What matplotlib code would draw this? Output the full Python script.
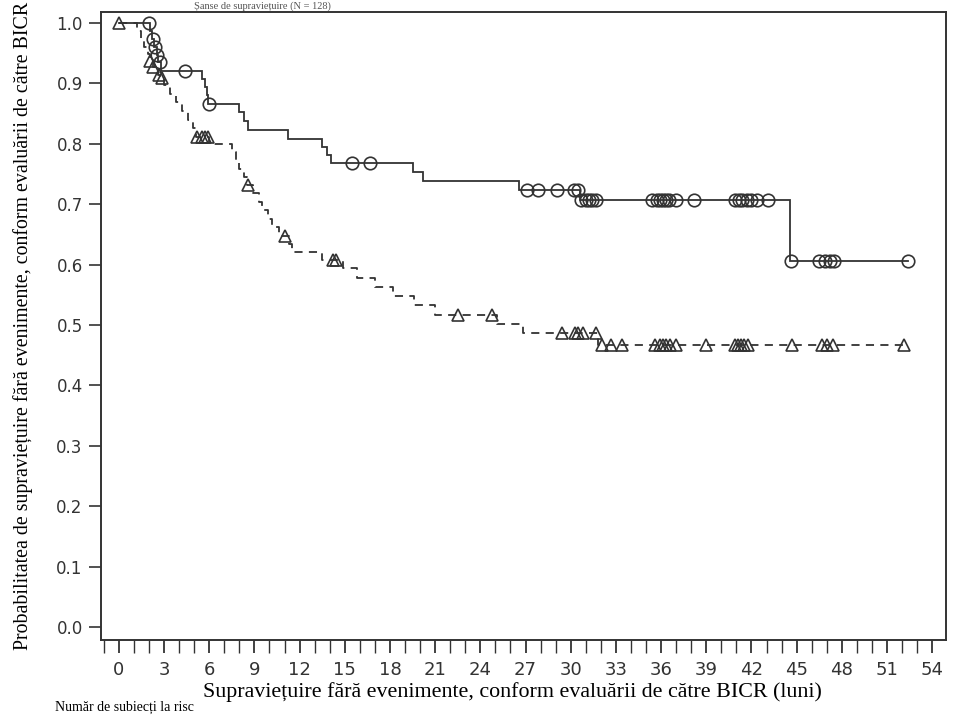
import numpy as np
import matplotlib
matplotlib.use("Agg")
import matplotlib.pyplot as plt
from matplotlib.ticker import MultipleLocator

# ---- Data ----
# Arm A (solid line, circles)
a_event_t = [0.0, 2.1, 2.2, 2.35, 2.5, 2.6, 2.8, 5.5, 5.7, 5.85, 5.95, 8.0, 8.3, 8.6,
             11.2, 13.5, 13.8, 14.1, 19.5, 20.2, 26.6, 30.6, 44.55]
a_event_s = [1.0, 0.986, 0.973, 0.960, 0.947, 0.935, 0.921, 0.907, 0.894, 0.880, 0.866,
             0.852, 0.838, 0.823, 0.808, 0.795, 0.782, 0.768, 0.753, 0.738, 0.723, 0.707, 0.606]
a_end = 52.4
a_cens = [2.0, 2.25, 2.4, 2.55, 2.7, 4.4, 6.0, 15.5, 16.7, 27.1, 27.8, 29.1, 30.2, 30.5,
          30.7, 31.0, 31.2, 31.4, 31.7, 35.4, 35.7, 35.9, 36.1, 36.3, 36.5, 37.0, 38.2,
          40.9, 41.2, 41.4, 41.7, 42.0, 42.4, 43.1, 44.6, 46.5, 46.9, 47.2, 47.5, 52.4]

# Arm B (dashed line, triangles)
b_event_t = [0.0, 1.2, 1.5, 1.7, 1.95, 2.05, 2.25, 2.6, 2.75, 3.0, 3.4, 3.8, 4.2, 4.6, 4.9, 5.1,
             6.0, 7.5, 7.8, 8.0, 8.3, 8.5, 8.9, 9.3, 9.5, 9.9, 10.2, 10.6, 11.3, 11.5,
             13.5, 14.9, 15.8, 17.0, 18.2, 19.6, 21.0, 25.1, 26.8, 31.8]
b_event_s = [1.0, 0.987, 0.974, 0.961, 0.948, 0.937, 0.927, 0.914, 0.909, 0.897, 0.883, 0.869,
             0.855, 0.840, 0.826, 0.812, 0.800, 0.786, 0.772, 0.759, 0.745, 0.732, 0.718,
             0.704, 0.690, 0.676, 0.662, 0.648, 0.634, 0.621, 0.608, 0.594, 0.578, 0.563,
             0.548, 0.533, 0.517, 0.502, 0.487, 0.467]
b_end = 52.1
b_cens = [0.0, 2.1, 2.3, 2.65, 2.85, 5.2, 5.5, 5.7, 5.9, 8.6, 11.0, 14.2, 14.4, 22.5, 24.8,
          29.4, 30.3, 30.5, 30.8, 31.7, 32.1, 32.7, 33.4, 35.6, 35.9, 36.1, 36.3, 36.6, 37.0,
          39.0, 40.9, 41.1, 41.3, 41.5, 41.8, 44.7, 46.7, 47.0, 47.4, 52.1]

x_ticks = list(range(0, 55, 3))
y_ticks = [0.0, 0.1, 0.2, 0.3, 0.4, 0.5, 0.6, 0.7, 0.8, 0.9, 1.0]

xlabel = "Supraviețuire fără evenimente, conform evaluării de către BICR (luni)"
ylabel = "Probabilitatea de supraviețuire fără evenimente, conform evaluării de către BICR"
top_text = "Șanse de supraviețuire (N = 128)"
bottom_text = "Număr de subiecți la risc"

# ---- Plot ----
fig = plt.figure(figsize=(9.69, 7.15), dpi=100)
ax = fig.add_axes([0.104, 0.105, 0.872, 0.878])

col = "#333333"

def surv_at(times, surv, t):
    idx = np.searchsorted(np.asarray(times), t, side="right") - 1
    return np.asarray(surv)[idx]

# Arm A
ax.step(list(a_event_t) + [a_end], list(a_event_s) + [a_event_s[-1]], where="post",
        color=col, lw=1.3, solid_joinstyle="miter")
ax.plot(a_cens, surv_at(a_event_t, a_event_s, np.array(a_cens)), ls="none", marker="o",
        ms=9, mfc="none", mec=col, mew=1.2)

# Arm B
ax.step(list(b_event_t) + [b_end], list(b_event_s) + [b_event_s[-1]], where="post",
        color=col, lw=1.3, ls=(0, (4.5, 3.5)))
ax.plot(b_cens, surv_at(b_event_t, b_event_s, np.array(b_cens)), ls="none", marker="^",
        ms=9, mfc="none", mec=col, mew=1.2)

ax.set_xlim(-1.2, 54.9)
ax.set_ylim(-0.0215, 1.018)
ax.set_xticks(x_ticks)
ax.xaxis.set_minor_locator(MultipleLocator(1))
ax.set_yticks(y_ticks)
ax.set_yticklabels([f"{v:.1f}" for v in y_ticks])

for s in ax.spines.values():
    s.set_linewidth(1.4)
    s.set_color(col)

ax.tick_params(axis="y", which="major", length=9, width=1.2, color=col,
               labelsize=12, labelcolor="#333333", pad=4)
ax.tick_params(axis="x", which="major", length=9, width=1.3, color=col,
               labelsize=12, labelcolor="#333333", pad=6)
ax.tick_params(axis="x", which="minor", length=9, width=1.0, color=col)
for lab in ax.get_xticklabels():
    lab.set_family(["Liberation Sans Narrow", "DejaVu Sans"])
    lab.set_fontsize(13)

serif = ["Liberation Serif", "DejaVu Serif"]
ax.set_xlabel(xlabel, family=serif, fontsize=15.8, labelpad=2)
ax.xaxis.set_label_coords(0.487, -0.067)
ax.set_ylabel(ylabel, family=serif, fontsize=14.3, labelpad=17)

fig.text(0.2, 0.9985, top_text, family=serif, fontsize=7.5, va="top", ha="left", color="#555555")
fig.text(0.057, 0.001, bottom_text, family=serif, fontsize=10, va="bottom", ha="left")

fig.savefig("out.png", dpi=100)
